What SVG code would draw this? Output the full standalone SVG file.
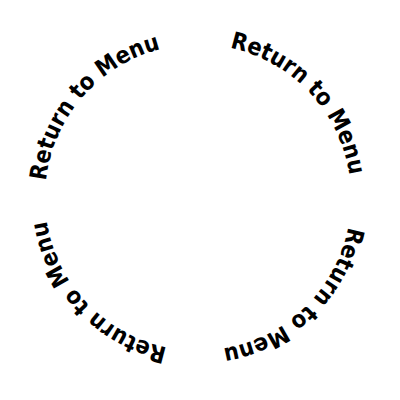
<svg xmlns="http://www.w3.org/2000/svg" xmlns:xlink="http://www.w3.org/1999/xlink" width="400" height="400" viewBox="0 0 400 400">
  <style>
    .lbl { font-family: "DejaVu Sans Condensed", "DejaVu Sans", sans-serif; font-stretch: condensed; font-weight: bold; font-size: 23.5px; fill: #000; }
  </style>
  <defs>
    <path id="ring" d="M 198,350.5 A 153 153 0 1 1 198,44.5 A 153 153 0 1 1 198,350.5"/>
  </defs>
  <rect width="400" height="400" fill="#fff"/>
  <g id="label-top-right" transform="rotate(46.8 198 197.5)">
    <text class="lbl" text-anchor="middle"><textPath xlink:href="#ring" href="#ring" startOffset="50%">Return to Menu</textPath></text>
  </g>
  <g id="label-bottom-right" transform="rotate(135.85 198 197.5)">
    <text class="lbl" text-anchor="middle"><textPath xlink:href="#ring" href="#ring" startOffset="50%">Return to Menu</textPath></text>
  </g>
  <g id="label-bottom-left" transform="rotate(226.4 198 197.5)">
    <text class="lbl" text-anchor="middle"><textPath xlink:href="#ring" href="#ring" startOffset="50%">Return to Menu</textPath></text>
  </g>
  <g id="label-top-left" transform="rotate(311.05 198 197.5)">
    <text class="lbl" text-anchor="middle"><textPath xlink:href="#ring" href="#ring" startOffset="50%">Return to Menu</textPath></text>
  </g>
</svg>
